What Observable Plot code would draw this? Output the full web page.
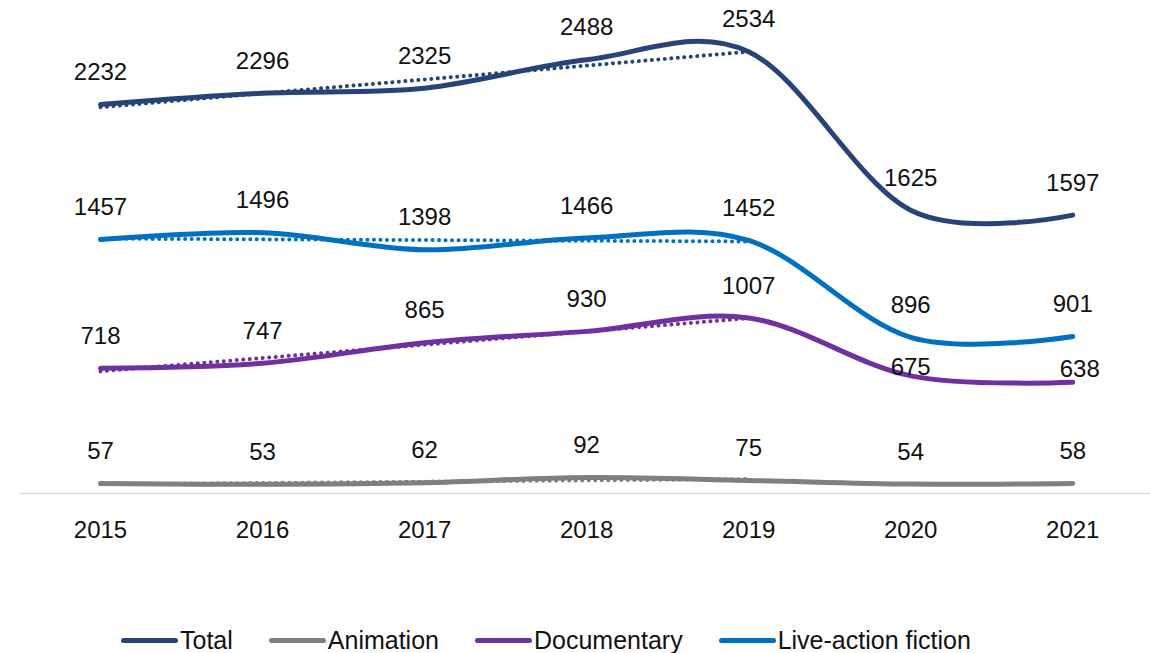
<!DOCTYPE html>
<html>
<head>
<meta charset="utf-8">
<script src="https://cdn.jsdelivr.net/npm/d3@7"></script>
<script src="https://cdn.jsdelivr.net/npm/@observablehq/plot@0.6"></script>
<style>
  html, body { margin: 0; padding: 0; background: #fff; }
  body { width: 1150px; height: 653px; position: relative; overflow: hidden; font-family: "Liberation Sans", sans-serif; }
  #chart svg { display: block; }
  #legend { position: absolute; left: 121px; top: 626px; display: flex; align-items: center; gap: 36px; font-size: 25px; color: #111; line-height: 28px; }
  .item { display: flex; align-items: center; }
  .sw { display: inline-block; width: 57px; height: 5px; border-radius: 3px; margin-right: 2px; }
</style>
</head>
<body>
<div id="chart"></div>
<div id="legend"></div>
<script>
const years = [2015, 2016, 2017, 2018, 2019, 2020, 2021];
const total = [2232, 2296, 2325, 2488, 2534, 1625, 1597];
const animation = [57, 53, 62, 92, 75, 54, 58];
const documentary = [718, 747, 865, 930, 1007, 675, 638];
const liveAction = [1457, 1496, 1398, 1466, 1452, 896, 901];
const seriesNames = ["Total", "Animation", "Documentary", "Live-action fiction"];
const seriesColors = ["#264478", "#7f7f7f", "#7030a0", "#0070c0"];
const trendEndYear = 2019;

const seriesValues = [total, animation, documentary, liveAction];
const rows = [];
seriesNames.forEach((name, i) => {
  years.forEach((yr, j) => rows.push({ series: name, year: yr, value: seriesValues[i][j] }));
});

// label placement tweaks (layout only)
const isLow = d => d.series === "Documentary" && d.year >= 2020;
const normalLabels = rows.filter(d => !isLow(d));
const low2020 = rows.filter(d => isLow(d) && d.year === 2020);
const low2021 = rows.filter(d => isLow(d) && d.year === 2021);

const xDomain = [2014.5, 2021.48];

const chart = Plot.plot({
  width: 1150,
  height: 600,
  marginLeft: 19,
  marginRight: 0,
  marginTop: 0,
  marginBottom: 107,
  x: { type: "linear", domain: xDomain, axis: null },
  y: { domain: [0, 2828], axis: null },
  color: { domain: seriesNames, range: seriesColors },
  style: { fontFamily: "Liberation Sans, sans-serif", fontSize: "24px", color: "#111", background: "#fff", overflow: "visible" },
  marks: [
    Plot.ruleY([0], { x1: () => xDomain[0], x2: () => xDomain[1] + 0.1, stroke: "#d9d9d9", strokeWidth: 1.5, clip: false }),
    Plot.linearRegressionY(rows.filter(d => d.year <= trendEndYear), {
      x: "year", y: "value", z: "series", stroke: "series", ci: 0,
      strokeWidth: 4, strokeDasharray: "0.01 6.5", strokeLinecap: "round"
    }),
    Plot.line(rows, {
      x: "year", y: "value", z: "series", stroke: "series",
      strokeWidth: 5, curve: "cardinal", strokeLinecap: "round", strokeLinejoin: "round"
    }),
    Plot.text(normalLabels, { x: "year", y: "value", text: d => String(d.value), dy: -32, fill: "#111" }),
    Plot.text(low2020, { x: "year", y: "value", text: d => String(d.value), dy: -9, fill: "#111" }),
    Plot.text(low2021, { x: "year", y: "value", text: d => String(d.value), dy: -13, dx: 7, fill: "#111" }),
    Plot.text(years, { x: d => d, y: () => 0, text: d => String(d), dy: 37, fill: "#111" })
  ]
});
document.getElementById("chart").appendChild(chart);

const legend = document.getElementById("legend");
seriesNames.forEach((name, i) => {
  const item = document.createElement("div");
  item.className = "item";
  const sw = document.createElement("span");
  sw.className = "sw";
  sw.style.background = seriesColors[i];
  const label = document.createElement("span");
  label.textContent = name;
  item.appendChild(sw);
  item.appendChild(label);
  legend.appendChild(item);
});
</script>
</body>
</html>
